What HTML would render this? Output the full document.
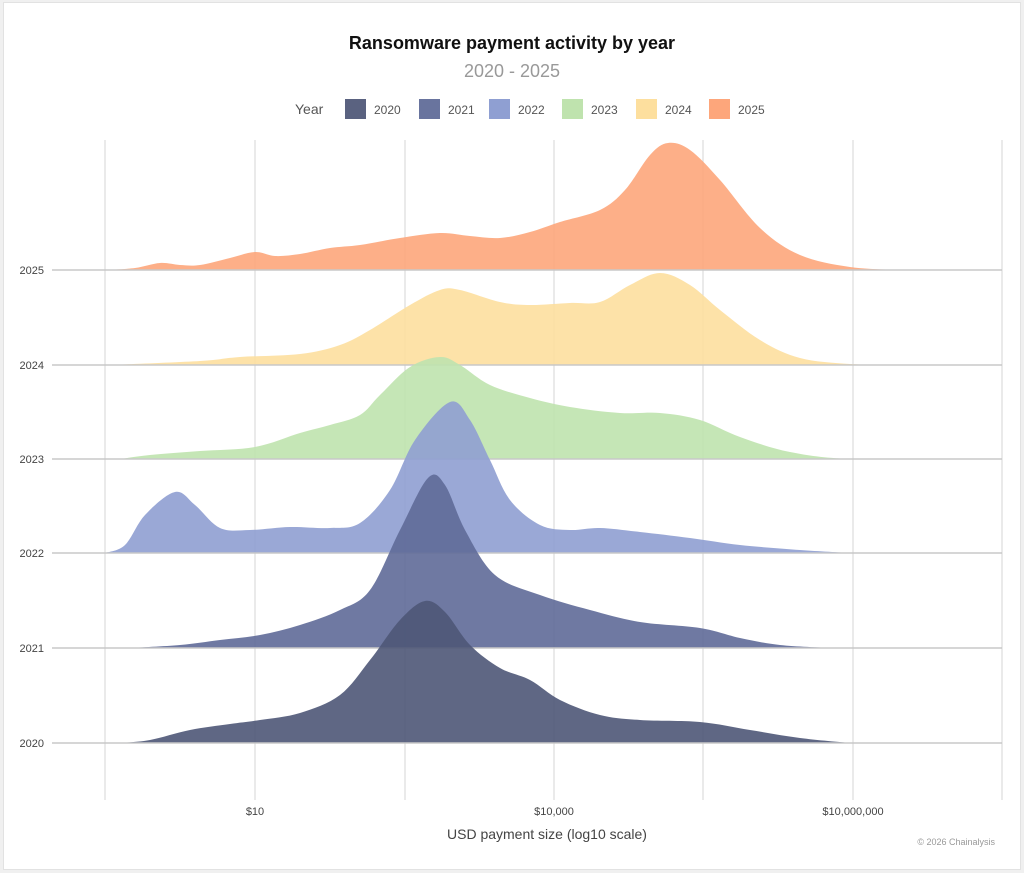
<!DOCTYPE html>
<html><head><meta charset="utf-8"><style>
html,body{margin:0;padding:0;background:#f0f0f0;}
body{width:1024px;height:873px;overflow:hidden;position:relative;font-family:"Liberation Sans",sans-serif;}
#box{position:absolute;left:3px;top:2px;width:1016px;height:866px;background:#fff;border:1px solid #e2e2e2;}
</style></head><body>
<div id="box"></div>
<svg id="s" width="1024" height="873" style="position:absolute;left:0;top:0">
<text x="512" y="49" text-anchor="middle" font-size="18" font-weight="bold" fill="#111">Ransomware payment activity by year</text>
<text x="512" y="77" text-anchor="middle" font-size="18" fill="#999">2020 - 2025</text>
<g font-size="12" fill="#555">
<text x="295" y="114" font-size="14">Year</text>
<rect x="345" y="99" width="21" height="20" fill="#5a6280"/><text x="374" y="114">2020</text>
<rect x="419" y="99" width="21" height="20" fill="#69749e"/><text x="448" y="114">2021</text>
<rect x="489" y="99" width="21" height="20" fill="#8f9fd2"/><text x="518" y="114">2022</text>
<rect x="562" y="99" width="21" height="20" fill="#bfe3ae"/><text x="591" y="114">2023</text>
<rect x="636" y="99" width="21" height="20" fill="#fddf9e"/><text x="665" y="114">2024</text>
<rect x="709" y="99" width="21" height="20" fill="#fda67b"/><text x="738" y="114">2025</text>
</g>
<g id="grid" stroke="#d4d4d4" stroke-width="1"></g>
<g id="ridges"></g>
<g font-size="11" fill="#444" text-anchor="end">
<text x="44" y="274">2025</text><text x="44" y="369">2024</text><text x="44" y="463">2023</text>
<text x="44" y="557">2022</text><text x="44" y="652">2021</text><text x="44" y="747">2020</text>
</g>
<g font-size="11" fill="#444" text-anchor="middle">
<text x="255" y="815">$10</text><text x="554" y="815">$10,000</text><text x="853" y="815">$10,000,000</text>
</g>
<text x="547" y="839" text-anchor="middle" font-size="14" fill="#444">USD payment size (log10 scale)</text>
<text x="995" y="845" text-anchor="end" font-size="9" fill="#999">© 2026 Chainalysis</text>
</svg>
<script>
var ns="http://www.w3.org/2000/svg";
var g=document.getElementById("grid");
[105,255,405,554,703,853,1002].forEach(function(x){var l=document.createElementNS(ns,"line");l.setAttribute("x1",x);l.setAttribute("x2",x);l.setAttribute("y1",140);l.setAttribute("y2",800);g.appendChild(l);});
var data=[
[270,"#fda67b",[[105,270],[135,268],[160,263],[180,265],[200,265],[230,258],[255,252],[275,256],[300,254],[330,248],[360,245],[400,238],[440,233],[470,236],[500,238],[530,232],[560,222],[600,210],[625,190],[650,155],[668,143],[690,150],[720,180],[760,228],[800,255],[850,267],[900,270]]],
[365,"#fddf9e",[[110,365],[200,361],[240,357],[300,354],[340,345],[370,330],[410,305],[440,290],[460,290],[500,302],[530,305],[570,303],[600,302],[630,285],[660,273],[690,285],[720,310],[760,340],[800,358],[850,364],[900,365]]],
[459,"#bfe3ae",[[120,459],[150,455],[200,451],[255,447],[300,433],[330,425],[360,415],[380,395],[410,367],[440,357],[460,365],[490,385],[530,398],[570,407],[620,413],[660,413],[700,420],[740,437],[790,452],[850,459],[950,459]]],
[553,"#8f9fd2",[[105,553],[125,545],[145,515],[175,492],[195,505],[220,528],[250,530],[290,527],[330,528],[360,523],[390,490],[415,440],[450,402],[470,420],[490,460],[510,500],[540,525],[570,530],[600,528],[640,532],[690,538],[740,545],[800,550],[850,553]]],
[648,"#5f6a98",[[130,648],[180,645],[220,640],[260,635],[300,625],[340,610],[370,590],[400,530],[428,478],[445,485],[465,530],[495,575],[540,595],[590,610],[640,622],[700,628],[740,638],[780,645],[830,648]]],
[743,"#4e5677",[[120,743],[150,740],[190,730],[230,724],[260,720],[300,713],[340,695],[370,660],[400,620],[425,601],[445,612],[470,645],[500,668],[530,680],[560,700],[600,715],[640,720],[700,722],[750,730],[800,738],[850,743]]]
];
var r=document.getElementById("ridges");
data.forEach(function(d){
 var b=d[0],p=d[2];
 var s="M"+p[0][0]+","+p[0][1];
 for(var i=0;i<p.length-1;i++){
  var p0=p[i-1]||p[i],p1=p[i],p2=p[i+1],p3=p[i+2]||p2;
  s+=" C"+(p1[0]+(p2[0]-p0[0])/6)+","+(p1[1]+(p2[1]-p0[1])/6)+" "+(p2[0]-(p3[0]-p1[0])/6)+","+(p2[1]-(p3[1]-p1[1])/6)+" "+p2[0]+","+p2[1];
 }
 s+=" L"+p[0][0]+","+b+" Z";
 var path=document.createElementNS(ns,"path");path.setAttribute("d",s);path.setAttribute("fill",d[1]);path.setAttribute("fill-opacity","0.9");r.appendChild(path);
 var l=document.createElementNS(ns,"line");l.setAttribute("x1",52);l.setAttribute("x2",1002);l.setAttribute("y1",b);l.setAttribute("y2",b);l.setAttribute("stroke","#c8c8c8");l.setAttribute("stroke-width","1.5");r.appendChild(l);
});
</script>
</body></html>
